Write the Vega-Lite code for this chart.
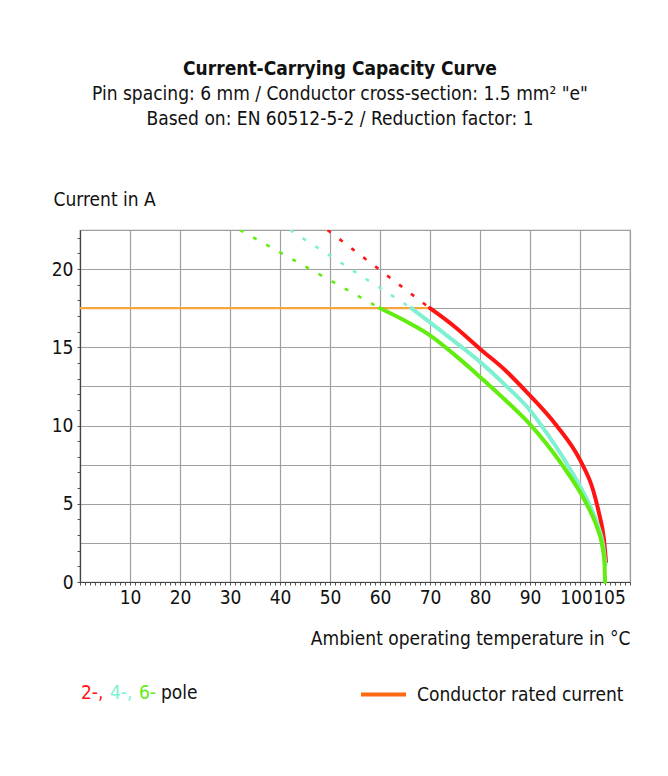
{
  "$schema": "https://vega.github.io/schema/vega-lite/v6.json",
  "width": 550,
  "height": 352,
  "autosize": {"type": "none"},
  "padding": {"left": 80, "top": 230, "right": 38, "bottom": 194},
  "background": "white",
  "config": {
    "font": "DejaVu Sans Condensed, Roboto Condensed, Roboto, sans-serif",
    "view": {"stroke": "#9a9a9a", "strokeWidth": 1.2}
  },
  "title": {
    "text": "Current-Carrying Capacity Curve",
    "subtitle": ["Pin spacing: 6 mm / Conductor cross-section: 1.5 mm² \"e\"", "Based on: EN 60512-5-2 / Reduction factor: 1"],
    "anchor": "middle",
    "frame": "group",
    "dx": -15,
    "offset": 61,
    "fontSize": 19,
    "fontWeight": "bold",
    "color": "#111111",
    "subtitleFontSize": 19,
    "subtitleColor": "#111111",
    "subtitleLineHeight": 25,
    "subtitlePadding": 6
  },
  "datasets": {
    "rated": [
      {"t": 0, "i": 17.5, "series": "Conductor rated current"},
      {"t": 70, "i": 17.5, "series": "Conductor rated current"}
    ],
    "curves": [
      {"pole": "2", "part": "dashed", "t": 49.5, "i": 22.5},
      {"pole": "2", "part": "dashed", "t": 70, "i": 17.5},
      {"pole": "4", "part": "dashed", "t": 42, "i": 22.5},
      {"pole": "4", "part": "dashed", "t": 66.3, "i": 17.5},
      {"pole": "6", "part": "dashed", "t": 32, "i": 22.5},
      {"pole": "6", "part": "dashed", "t": 60, "i": 17.5},
      {"pole": "2", "part": "solid", "t": 70, "i": 17.5},
      {"pole": "2", "part": "solid", "t": 75, "i": 16.3},
      {"pole": "2", "part": "solid", "t": 80, "i": 14.9},
      {"pole": "2", "part": "solid", "t": 85, "i": 13.55},
      {"pole": "2", "part": "solid", "t": 89.3, "i": 12.15},
      {"pole": "2", "part": "solid", "t": 95.3, "i": 10.0},
      {"pole": "2", "part": "solid", "t": 100, "i": 7.8},
      {"pole": "2", "part": "solid", "t": 102.6, "i": 5.9},
      {"pole": "2", "part": "solid", "t": 103.8, "i": 4.4},
      {"pole": "2", "part": "solid", "t": 104.8, "i": 2.7},
      {"pole": "2", "part": "solid", "t": 105.2, "i": 1.3},
      {"pole": "4", "part": "solid", "t": 66.3, "i": 17.5},
      {"pole": "4", "part": "solid", "t": 70, "i": 16.6},
      {"pole": "4", "part": "solid", "t": 75, "i": 15.35},
      {"pole": "4", "part": "solid", "t": 80, "i": 14.07},
      {"pole": "4", "part": "solid", "t": 85, "i": 12.6},
      {"pole": "4", "part": "solid", "t": 90, "i": 10.98},
      {"pole": "4", "part": "solid", "t": 92.3, "i": 10.0},
      {"pole": "4", "part": "solid", "t": 97.5, "i": 7.5},
      {"pole": "4", "part": "solid", "t": 101.8, "i": 5.0},
      {"pole": "4", "part": "solid", "t": 103.6, "i": 3.6},
      {"pole": "4", "part": "solid", "t": 104.6, "i": 2.4},
      {"pole": "4", "part": "solid", "t": 105.1, "i": 1.1},
      {"pole": "6", "part": "solid", "t": 60, "i": 17.5},
      {"pole": "6", "part": "solid", "t": 65, "i": 16.7},
      {"pole": "6", "part": "solid", "t": 70, "i": 15.77},
      {"pole": "6", "part": "solid", "t": 75, "i": 14.5},
      {"pole": "6", "part": "solid", "t": 80, "i": 13.11},
      {"pole": "6", "part": "solid", "t": 85, "i": 11.65},
      {"pole": "6", "part": "solid", "t": 90, "i": 10.08},
      {"pole": "6", "part": "solid", "t": 96.4, "i": 7.5},
      {"pole": "6", "part": "solid", "t": 101.3, "i": 5.0},
      {"pole": "6", "part": "solid", "t": 103.4, "i": 3.5},
      {"pole": "6", "part": "solid", "t": 104.4, "i": 2.4},
      {"pole": "6", "part": "solid", "t": 104.9, "i": 1.2},
      {"pole": "6", "part": "solid", "t": 105.0, "i": 0}
    ]
  },
  "encoding": {
    "x": {
      "field": "t",
      "type": "quantitative",
      "scale": {"domain": [0, 110], "nice": false, "zero": false},
      "axis": {
        "orient": "bottom",
        "values": [0,1,2,3,4,5,6,7,8,9,10,11,12,13,14,15,16,17,18,19,20,21,22,23,24,25,26,27,28,29,30,31,32,33,34,35,36,37,38,39,40,41,42,43,44,45,46,47,48,49,50,51,52,53,54,55,56,57,58,59,60,61,62,63,64,65,66,67,68,69,70,71,72,73,74,75,76,77,78,79,80,81,82,83,84,85,86,87,88,89,90,91,92,93,94,95,96,97,98,99,100,101,102,103,104,105,106,107,108,109,110],
        "labelExpr": "((datum.value % 10 === 0 && datum.value > 0 && datum.value <= 100) || datum.value === 105) ? format(datum.value, 'd') : ''",
        "labelOverlap": false,
        "labelFlush": false,
        "labelOffset": {"condition": [{"test": "datum.value === 100", "value": -4}, {"test": "datum.value === 105", "value": 4}], "value": 0},
        "labelFontSize": 19,
        "labelColor": "#111111",
        "labelPadding": 3,
        "grid": true,
        "gridColor": "#a0a0a0",
        "gridWidth": 1.2,
        "gridOpacity": {"condition": {"test": "datum.value % 10 === 0", "value": 1}, "value": 0},
        "ticks": true,
        "tickSize": 3,
        "tickColor": "#555555",
        "tickWidth": 1,
        "domainColor": "#444444",
        "domainWidth": 1.2,
        "title": "Ambient operating temperature in °C",
        "titleFontSize": 19,
        "titleFontWeight": "normal",
        "titleColor": "#111111",
        "titleAnchor": "end",
        "titleAlign": "right",
        "titleBaseline": "alphabetic",
        "titleX": 550,
        "titleY": 62
      }
    },
    "y": {
      "field": "i",
      "type": "quantitative",
      "scale": {"domain": [0, 22.5], "nice": false, "zero": true},
      "axis": {
        "orient": "left",
        "values": [0,1,2,2.5,3,4,5,6,7,7.5,8,9,10,11,12,12.5,13,14,15,16,17,17.5,18,19,20,21,22,22.5],
        "labelExpr": "datum.value % 5 === 0 ? format(datum.value, 'd') : ''",
        "labelOverlap": false,
        "labelFlush": false,
        "labelFontSize": 19,
        "labelColor": "#111111",
        "labelPadding": 4,
        "grid": true,
        "gridColor": "#a0a0a0",
        "gridWidth": 1.2,
        "gridOpacity": {"condition": {"test": "datum.value % 2.5 === 0", "value": 1}, "value": 0},
        "ticks": true,
        "tickSize": 3,
        "tickColor": "#555555",
        "tickWidth": 1,
        "tickOpacity": {"condition": {"test": "datum.value % 1 === 0", "value": 1}, "value": 0},
        "domainColor": "#444444",
        "domainWidth": 1.2,
        "title": "Current in A",
        "titleFontSize": 19,
        "titleFontWeight": "normal",
        "titleColor": "#111111",
        "titleAngle": 0,
        "titleAlign": "left",
        "titleBaseline": "alphabetic",
        "titleX": -27,
        "titleY": -25
      }
    }
  },
  "layer": [
    {
      "data": {"name": "rated"},
      "mark": {"type": "line", "strokeWidth": 2.2, "stroke": "#f7a53c"},
      "encoding": {
        "opacity": {
          "field": "series",
          "type": "nominal",
          "scale": {"range": [1]},
          "legend": {
            "orient": "none",
            "legendX": 279,
            "legendY": 440,
            "padding": 0,
            "title": null,
            "symbolType": "stroke",
            "symbolSize": 2025,
            "symbolStrokeWidth": 4,
            "symbolStrokeColor": "#ff6a10",
            "labelOffset": 9,
            "labelFontSize": 19,
            "labelColor": "#111111",
            "labelLimit": 400,
            "encode": {"symbols": {"update": {"stroke": {"value": "#ff6a10"}}}}
          }
        }
      }
    },
    {
      "data": {"name": "curves"},
      "transform": [{"filter": "datum.part === 'dashed'"}],
      "mark": {"type": "line", "strokeWidth": 2.6, "strokeDash": [4, 11], "clip": true},
      "encoding": {
        "color": {
          "field": "pole",
          "type": "nominal",
          "scale": {"domain": ["2", "4", "6"], "range": ["#ff1414", "#80f0d2", "#62ec10"]},
          "legend": {
            "orient": "none",
            "legendX": 1,
            "legendY": 453,
            "padding": 0,
            "direction": "horizontal",
            "gridAlign": "none",
            "title": "pole",
            "titleOrient": "right",
            "titleFontSize": 19,
            "titleFontWeight": "normal",
            "titleColor": "#111111",
            "titlePadding": 5,
            "titleBaseline": "middle",
            "labelExpr": "datum.value === '6' ? '6-' : datum.value + '-,'",
            "labelFontSize": 19,
            "labelOffset": -19,
            "symbolSize": 1,
            "symbolOpacity": 0,
            "symbolStrokeWidth": 0,
            "columnPadding": 6,
            "encode": {"labels": {"update": {"fill": {"signal": "datum.value === '2' ? '#ff1414' : datum.value === '4' ? '#80f0d2' : '#62ec10'"}}}}
          }
        }
      }
    },
    {
      "data": {"name": "curves"},
      "transform": [{"filter": "datum.part === 'solid'"}],
      "mark": {"type": "line", "strokeWidth": 4, "interpolate": "monotone", "strokeCap": "round"},
      "encoding": {
        "color": {
          "field": "pole",
          "type": "nominal",
          "scale": {"domain": ["2", "4", "6"], "range": ["#ff1414", "#80f0d2", "#62ec10"]},
          "legend": {
            "orient": "none",
            "legendX": 1,
            "legendY": 453,
            "padding": 0,
            "direction": "horizontal",
            "gridAlign": "none",
            "title": "pole",
            "titleOrient": "right",
            "titleFontSize": 19,
            "titleFontWeight": "normal",
            "titleColor": "#111111",
            "titlePadding": 5,
            "titleBaseline": "middle",
            "labelExpr": "datum.value === '6' ? '6-' : datum.value + '-,'",
            "labelFontSize": 19,
            "labelOffset": -19,
            "symbolSize": 1,
            "symbolOpacity": 0,
            "symbolStrokeWidth": 0,
            "columnPadding": 6,
            "encode": {"labels": {"update": {"fill": {"signal": "datum.value === '2' ? '#ff1414' : datum.value === '4' ? '#80f0d2' : '#62ec10'"}}}}
          }
        }
      }
    }
  ]
}
